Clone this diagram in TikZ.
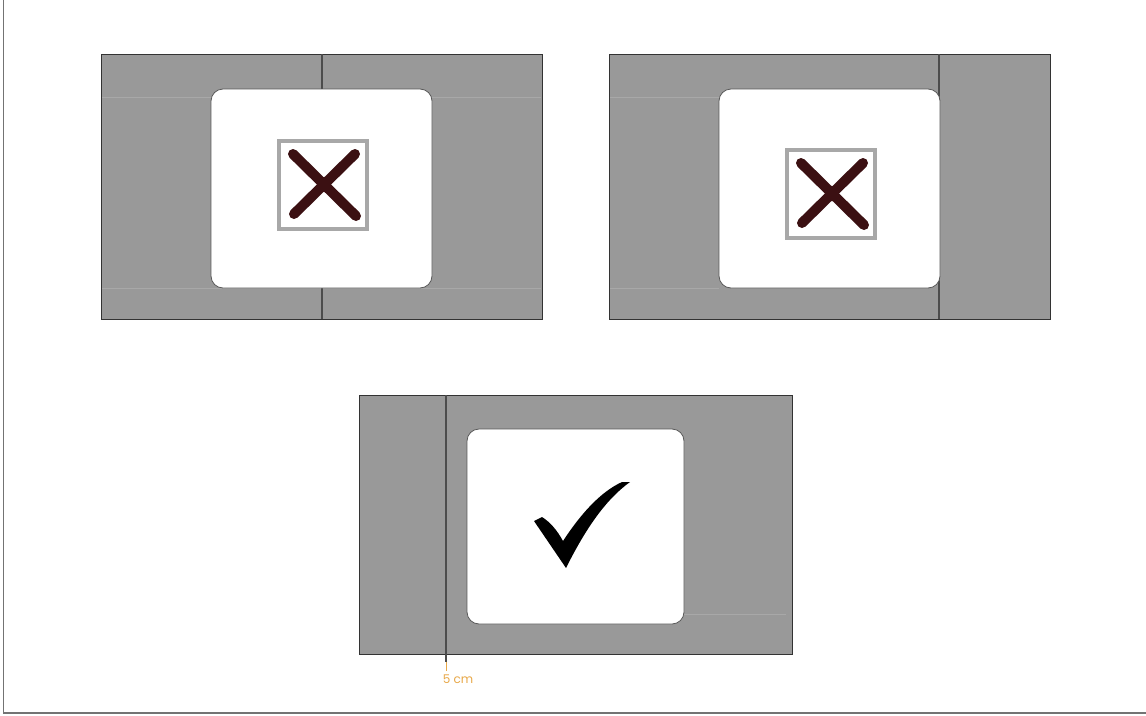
\documentclass[tikz,border=0pt]{standalone}
\usepackage{fontspec}
\setmainfont{Poppins}
\begin{document}
\begin{tikzpicture}[x=1pt,y=-1pt,
  panel/.style={fill=panelgray,draw=black!80,line width=1pt},
  card/.style={fill=white,draw=black!65,line width=0.8pt,rounded corners=12pt},
  guide/.style={draw=black!70,line width=1.2pt},
  faint/.style={draw=panelgray!85!white,line width=1pt},
  iconbox/.style={draw=boxgray,line width=4pt,fill=white},
  xstroke/.style={draw=xred,line width=10pt,line cap=round},
  tick/.style={fill=black}]
\definecolor{panelgray}{HTML}{999999}
\definecolor{boxgray}{HTML}{A8A8A8}
\definecolor{xred}{HTML}{3B1012}
\definecolor{labelorange}{HTML}{E8A848}
\useasboundingbox (0,0) rectangle (1146,715);
\fill[white] (0,0) rectangle (1146,715);
% frame
\draw[draw=black!55,line width=1.2pt] (3.5,0) -- (3.5,713) -- (1146,713);

% ---- panel 1
\path[panel] (101,54) rectangle (542,319);
\draw[faint] (102,97) -- (541,97);
\draw[faint] (102,288) -- (541,288);
\draw[guide] (322,54) -- (322,319);
\path[card] (211,89) rectangle (432,288);
\path[iconbox] (279,141) rectangle (367,229);
\draw[xstroke] (293,154) -- (356,216);
\draw[xstroke] (355,154) -- (294,214);

% ---- panel 2
\path[panel] (609,54) rectangle (1050,319);
\draw[faint] (610,97) -- (719,97);
\draw[faint] (610,288) -- (719,288);
\draw[guide] (939,54) -- (939,319);
\path[card] (719,89) rectangle (940,288);
\path[iconbox] (787,150) rectangle (875,238);
\draw[xstroke] (801,163) -- (864,225);
\draw[xstroke] (863,163) -- (802,223);

% ---- panel 3
\path[panel] (359,395) rectangle (792,654);
\draw[faint] (684,614) -- (786,614);
\draw[guide] (446,395) -- (446,662);
\draw[draw=labelorange,line width=0.8pt] (446,662) -- (446,671);
\path[card] (467,429) rectangle (684,624);
\path[tick] (566,568) -- (534,521) -- (542,517)
  .. controls (550,522) and (557,530) .. (563,541)
  .. controls (580,515) and (600,492) .. (622,482)
  -- (630,482)
  .. controls (605,500) and (585,530) .. (566,568) -- cycle;
\node[font=\fontsize{12}{13}\selectfont,text=labelorange,inner sep=0pt] (lbl) at (458,679) {5 cm};
\end{tikzpicture}
\end{document}
